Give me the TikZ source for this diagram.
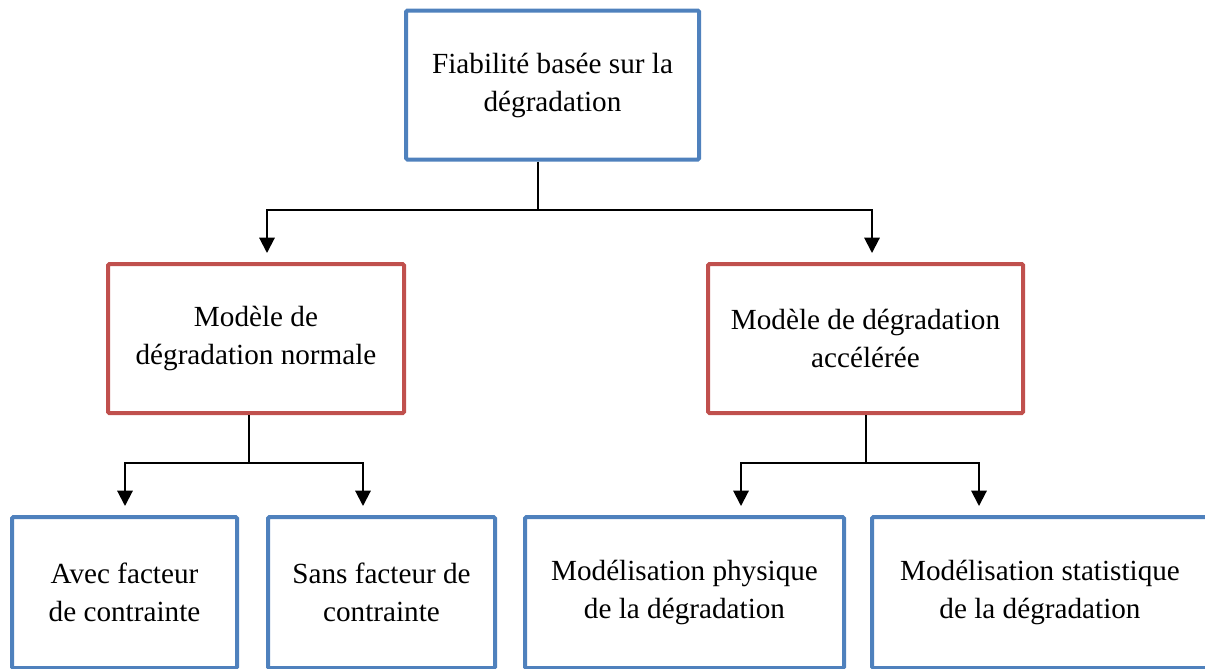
\documentclass[tikz,border=0pt]{standalone}
\usepackage{fontspec}
\setmainfont{Liberation Serif}
\newfontfamily\tnr{Liberation Serif}
\usetikzlibrary{arrows.meta}
\definecolor{boxblue}{HTML}{4F81BD}
\definecolor{boxred}{HTML}{C0504D}
\begin{document}
\begin{tikzpicture}[x=0.75pt,y=-0.75pt,
  box/.style={draw, line width=3pt, rounded corners=1pt, inner sep=0pt, align=center,
    font=\tnr\fontsize{21.9}{28.5}\selectfont, minimum height=111.75pt},
  bluebox/.style={box, draw=boxblue},
  redbox/.style={box, draw=boxred},
  lowbox/.style={bluebox, minimum height=113.25pt},
  conn/.style={draw=black, line width=1.5pt},
  arr/.style={conn, -{Triangle[length=11.5pt,width=11.5pt]}}]
\useasboundingbox (0,0) rectangle (1205,668);
\clip (0,0) rectangle (1205,668);

\node[bluebox, minimum width=219.75pt] (top) at (552.5,85) {Fiabilité basée sur la\\dégradation};
\node[redbox, minimum width=222pt] (rl) at (256,338.5) {Modèle de\\dégradation normale};
\node[redbox, minimum width=236.25pt] (rr) at (865.5,338.5) {Modèle de dégradation\\accélérée};
\node[lowbox, minimum width=168.75pt] (b1) at (124.5,592.5) {Avec facteur\\de contrainte};
\node[lowbox, minimum width=170.25pt] (b2) at (381.5,592.5) {Sans facteur de\\contrainte};
\node[lowbox, minimum width=239.25pt] (b3) at (684.5,592.5) {Modélisation physique\\de la dégradation};
\node[lowbox, minimum width=252pt] (b4) at (1040,592.5) {Modélisation statistique\\de la dégradation};

% top level connectors
\coordinate (j0) at (538,210);
\coordinate (t1) at (267,253);
\coordinate (t2) at (872,253);
\draw[conn] (top.south -| j0) -- (j0);
\draw[arr] (j0) -| (t1);
\draw[arr] (j0) -| (t2);

% left branch
\coordinate (j1) at (249,463);
\coordinate (t3) at (125,506);
\coordinate (t4) at (363,506);
\draw[conn] (rl.south -| j1) -- (j1);
\draw[arr] (j1) -| (t3);
\draw[arr] (j1) -| (t4);

% right branch
\coordinate (j2) at (866,463);
\coordinate (t5) at (741,506);
\coordinate (t6) at (979,506);
\draw[conn] (rr.south -| j2) -- (j2);
\draw[arr] (j2) -| (t5);
\draw[arr] (j2) -| (t6);
\end{tikzpicture}
\end{document}
